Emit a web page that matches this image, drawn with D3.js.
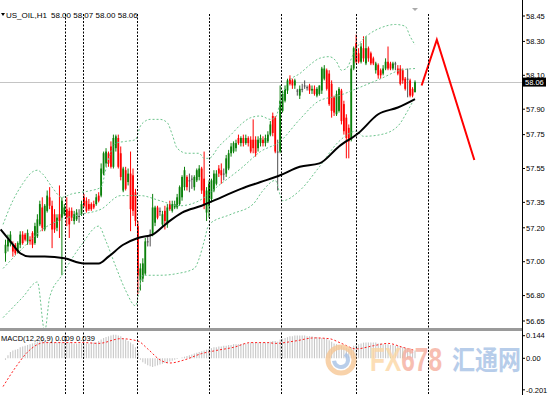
<!DOCTYPE html>
<html><head><meta charset="utf-8">
<script src="https://cdn.jsdelivr.net/npm/d3@7"></script>
<style>body{margin:0;background:#fff}svg{display:block}</style>
</head><body><svg id="c" width="550" height="395"></svg>
<script>
const open=[57.05,57.09,57.11,57.10,57.10,57.06,57.10,57.16,57.16,57.12,57.13,57.17,57.11,57.15,57.22,57.32,57.19,57.30,57.38,57.33,
57.28,57.20,57.28,57.26,57.28,57.31,57.30,57.30,57.24,57.25,57.27,57.28,57.38,57.36,57.34,57.34,57.34,57.34,57.39,57.39,
57.52,57.58,57.64,57.68,57.56,57.67,57.73,57.64,57.42,57.54,57.47,57.52,57.51,57.41,57.21,56.89,56.90,56.93,57.12,57.16,
57.16,57.23,57.32,57.30,57.22,57.30,57.22,57.34,57.30,57.32,57.32,57.34,57.38,57.44,57.50,57.48,57.49,57.44,57.48,57.50,
57.55,57.49,57.29,57.33,57.37,57.42,57.46,57.55,57.54,57.52,57.52,57.55,57.64,57.65,57.67,57.73,57.70,57.73,57.70,57.73,
57.72,57.72,57.72,57.67,57.70,57.72,57.70,57.71,57.75,57.86,57.85,57.65,57.65,57.89,57.95,58.01,58.08,58.07,58.04,58.01,
57.98,58.02,58.04,58.03,58.04,58.01,58.02,57.98,57.99,58.01,58.08,58.13,58.11,58.05,57.97,57.87,57.89,58.01,57.93,57.85,
57.79,57.72,58.14,58.29,58.23,58.18,58.26,58.17,58.26,58.23,58.20,58.13,58.16,58.13,58.11,58.14,58.18,58.17,58.14,58.17,
58.14,58.14,58.13,58.08,58.08,58.07,58.02,58.00];
const high=[57.13,57.16,57.18,57.12,57.11,57.12,57.18,57.18,57.17,57.19,57.15,57.18,57.23,57.28,57.36,57.38,57.34,57.42,57.44,57.36,
57.31,57.28,57.45,57.38,57.34,57.38,57.32,57.32,57.30,57.31,57.31,57.36,57.40,57.38,57.37,57.35,57.36,57.40,57.41,57.58,
57.65,57.67,57.65,57.71,57.75,57.75,57.75,57.68,57.56,57.56,57.55,57.65,57.55,57.43,57.24,56.99,57.02,57.14,57.15,57.19,
57.40,57.33,57.33,57.32,57.30,57.33,57.34,57.36,57.36,57.36,57.40,57.45,57.51,57.56,57.51,57.52,57.51,57.51,57.55,57.57,
57.56,57.65,57.44,57.48,57.49,57.54,57.54,57.57,57.58,57.55,57.63,57.66,57.70,57.71,57.72,57.75,57.74,57.75,57.75,57.74,
57.74,57.84,57.74,57.74,57.75,57.74,57.75,57.77,57.83,57.88,57.86,57.72,58.04,58.01,58.04,58.08,58.10,58.08,58.08,58.02,
58.04,58.05,58.07,58.04,58.05,58.04,58.04,58.03,58.04,58.15,58.16,58.14,58.13,58.07,57.98,58.01,58.03,58.02,57.95,57.87,
57.81,58.16,58.27,58.34,58.26,58.29,58.33,58.33,58.27,58.24,58.21,58.18,58.17,58.14,58.16,58.20,58.27,58.18,58.18,58.18,
58.16,58.16,58.14,58.09,58.14,58.08,58.03,58.07];
const low=[57.00,57.06,57.09,57.03,57.04,57.05,57.08,57.10,57.12,57.10,57.10,57.08,57.10,57.14,57.21,57.18,57.18,57.29,57.31,57.08,
57.17,57.18,57.14,56.92,57.27,57.21,57.14,57.24,57.22,57.24,57.23,57.27,57.32,57.29,57.30,57.30,57.31,57.33,57.35,57.38,
57.51,57.56,57.56,57.55,57.55,57.65,57.55,57.48,57.41,57.42,57.45,57.18,57.27,57.21,56.81,56.83,56.88,56.92,57.09,57.09,
57.15,57.21,57.25,57.27,57.20,57.19,57.20,57.30,57.29,57.31,57.31,57.33,57.36,57.42,57.42,57.41,57.43,57.42,57.47,57.48,
57.40,57.31,57.24,57.26,57.35,57.41,57.45,57.50,57.46,57.48,57.50,57.54,57.62,57.64,57.65,57.69,57.68,57.68,57.69,57.68,
57.64,57.64,57.62,57.65,57.68,57.68,57.68,57.70,57.74,57.74,57.64,57.42,57.64,57.88,57.94,57.99,58.04,58.02,58.02,57.98,
57.96,58.00,58.02,58.01,57.99,57.99,57.98,57.97,57.98,57.99,58.07,58.01,57.92,57.85,57.86,57.86,57.88,57.81,57.75,57.61,
57.61,57.71,58.13,58.17,58.17,58.17,58.18,58.16,58.18,58.16,58.16,58.11,58.08,58.08,58.10,58.13,58.13,58.13,58.13,58.13,
58.10,58.04,58.05,58.01,57.97,57.97,57.97,58.00];
const close=[57.10,57.13,57.16,57.06,57.05,57.11,57.16,57.11,57.13,57.17,57.12,57.10,57.21,57.25,57.34,57.20,57.33,57.39,57.33,57.19,
57.19,57.26,57.24,57.36,57.32,57.26,57.22,57.26,57.28,57.29,57.27,57.34,57.33,57.30,57.31,57.31,57.32,57.38,57.36,57.55,
57.64,57.65,57.58,57.56,57.73,57.74,57.56,57.50,57.55,57.43,57.52,57.31,57.30,57.24,56.92,56.96,56.99,57.12,57.12,57.16,
57.32,57.32,57.26,57.30,57.28,57.24,57.32,57.31,57.34,57.34,57.38,57.44,57.50,57.54,57.44,57.48,57.49,57.50,57.54,57.55,
57.42,57.33,57.42,57.46,57.48,57.52,57.52,57.52,57.51,57.52,57.61,57.64,57.68,57.70,57.70,57.70,57.73,57.70,57.73,57.70,
57.65,57.67,57.64,57.72,57.73,57.70,57.73,57.75,57.81,57.76,57.65,57.65,57.95,57.99,58.02,58.07,58.05,58.04,58.07,58.01,
58.02,58.02,58.04,58.03,58.01,58.02,57.99,58.02,58.04,58.14,58.14,58.02,57.93,57.89,57.88,57.99,58.02,57.83,57.77,57.73,
57.71,58.14,58.26,58.18,58.18,58.27,58.20,58.26,58.20,58.17,58.17,58.17,58.10,58.10,58.14,58.18,58.14,58.14,58.17,58.17,
58.11,58.05,58.07,58.02,58.08,57.98,57.98,58.06];

const maIdx=[-2,2,6,10,16,24,32,38,42,48,54,60,66,72,80,88,96,104,112,120,128,136,144,152,160,167];
const maVal=[57.19,57.12,57.05,57.03,57.03,57.02,56.99,56.99,57.03,57.10,57.14,57.16,57.23,57.29,57.33,57.38,57.43,57.47,57.51,57.56,57.58,57.68,57.76,57.87,57.91,57.96];

const bbUpIdx=[-1,3,7,11,13,15,19,23,27,31,35,39,41,43,45,49,53,55,57,59,63,66,68,70,74,79,81,83,87,92,96,100,104,108,110,113,116,120,124,128,132,135,137,139,142,145,149,153,159,163,165,167];
const bbUpVal=[57.22,57.36,57.46,57.53,57.54,57.52,57.44,57.38,57.40,57.41,57.42,57.44,57.55,57.65,57.70,57.71,57.72,57.80,57.83,57.84,57.84,57.82,57.75,57.67,57.64,57.64,57.61,57.61,57.68,57.75,57.81,57.85,57.86,57.84,57.85,57.99,58.07,58.11,58.16,58.20,58.21,58.18,58.13,58.14,58.23,58.30,58.35,58.38,58.40,58.39,58.33,58.28];
const bbMidIdx=[-1,7,15,23,31,39,47,55,63,71,79,87,96,104,112,120,128,136,143,153,161,167];
const bbMidVal=[56.96,57.08,57.19,57.25,57.28,57.31,57.39,57.39,57.36,57.33,57.36,57.45,57.55,57.65,57.71,57.84,57.95,57.98,58.02,58.08,58.13,58.14];
const bbLoIdx=[-1,7,13,16,18,23,31,38,41,45,49,53,56,63,70,77,79,81,83,92,101,105,110,113,120,128,136,143,146,153,160,164,167];
const bbLoVal=[56.67,56.79,56.88,56.59,56.79,56.92,57.10,57.21,57.12,56.97,56.83,56.74,56.92,56.92,56.93,56.96,57.02,57.12,57.22,57.28,57.34,57.42,57.48,57.36,57.42,57.56,57.71,57.77,57.74,57.75,57.80,57.89,57.97];

const macdHist=[-0.01,0.02,0.04,0.05,0.055,0.06,0.07,0.075,0.08,
0.085,0.09,0.095,0.10,0.105,0.11,0.11,0.11,0.105,0.10,
0.10,0.10,0.10,0.10,0.10,0.10,0.10,0.10,0.10,0.095,
0.095,0.095,0.095,0.095,0.095,0.095,0.10,0.10,0.10,0.11,
0.12,0.13,0.135,0.14,0.145,0.15,0.15,0.145,0.14,0.13,
0.12,0.11,0.10,0.09,0.07,0.04,-0.01,-0.025,-0.035,-0.045,
-0.05,-0.055,-0.05,-0.045,-0.04,-0.035,-0.03,-0.025,-0.02,-0.015,
-0.01,-0.005,0.0,0.005,0.01,0.015,0.02,0.025,0.03,0.035,
0.04,0.045,0.05,0.055,0.06,0.065,0.07,0.07,0.075,0.075,
0.08,0.08,0.085,0.085,0.09,0.09,0.09,0.09,0.095,0.095,
0.095,0.10,0.10,0.10,0.10,0.10,0.10,0.10,0.10,0.105,
0.11,0.11,0.105,0.12,0.125,0.13,0.135,0.14,0.14,0.145,
0.145,0.145,0.145,0.145,0.14,0.14,0.14,0.135,0.135,0.13,
0.13,0.13,0.125,0.115,0.105,0.095,0.09,0.085,0.08,0.07,
0.065,0.06,0.07,0.08,0.085,0.09,0.095,0.10,0.10,0.10,
0.10,0.10,0.10,0.095,0.095,0.09,0.09,0.09,0.085,0.085,
0.08,0.08,0.075,0.07,0.065,0.06,0.055,0.05,0.05];
const sigIdx=[-1,4,9,16,32,38,47,54,58,63,67,73,80,86,93,100,107,110,118,126,132,137,143,150,156,162,167];
const sigVal=[-0.18,-0.06,0.04,0.10,0.10,0.095,0.125,0.11,0.06,-0.01,-0.03,-0.01,0.03,0.05,0.07,0.10,0.10,0.095,0.11,0.13,0.125,0.095,0.06,0.08,0.095,0.07,0.05];

const sepBar=[24.3,31.6,53.6,83.0,112.4,142.9,172.3];
const fcBar=[169.7,175.9,191.2];
const fcPrice=[58.04,58.31,57.60];
const priceTicks=[58.45,58.30,58.10,57.90,57.75,57.55,57.35,57.20,57.00,56.80,56.65];
const macdTicks=[0.144,0,-0.201];
const macdTickLabels=["0.144","0.00","-0.201"];
const lastPrice=58.06;
const titleSym="US_OIL,H1";
const titleOHLC="58.00 58.07 58.00 58.06";
const macdTitle="MACD(12,26,9) 0.009 0.039";

const AX=522;
const svg=d3.select('#c');
const x=d3.scaleLinear().domain([0,open.length-1]).range([5.5,415]);
const y=d3.scaleLinear().domain([56.65,58.45]).range([321,16]);
const ym=d3.scaleLinear().domain([0,0.144]).range([358.3,335.7]);
const defs=svg.append('defs');
defs.append('clipPath').attr('id','cm').append('rect').attr('x',0).attr('y',0).attr('width',AX).attr('height',328);
defs.append('clipPath').attr('id','cd').append('rect').attr('x',0).attr('y',331).attr('width',AX).attr('height',64);

const main=svg.append('g').attr('clip-path','url(#cm)');
main.append('line').attr('x1',0).attr('x2',AX).attr('y1',Math.round(y(lastPrice))+0.5).attr('y2',Math.round(y(lastPrice))+0.5).attr('stroke','#c4c4c4').attr('stroke-width',1);

const col=i=>close[i]>open[i]?'#0b800b':(close[i]<open[i]?'#ff0000':'#505050');
const cg=main.append('g');
open.forEach((o,i)=>{
  const cx=x(i);
  cg.append('line').attr('x1',cx).attr('x2',cx).attr('y1',y(high[i])).attr('y2',y(low[i])).attr('stroke',col(i)).attr('stroke-width',1);
  const t=Math.min(y(o),y(close[i])), b=Math.max(y(o),y(close[i]));
  cg.append('rect').attr('x',cx-0.9).attr('width',1.8).attr('y',t).attr('height',Math.max(1,b-t)).attr('fill',col(i));
});

const mk=(idx,sc)=>d3.line().x((d,i)=>x(idx[i])).y(d=>sc(d)).curve(d3.curveMonotoneX);
[[bbUpIdx,bbUpVal],[bbMidIdx,bbMidVal],[bbLoIdx,bbLoVal]].forEach(([ix,v])=>{
  main.append('path').attr('d',mk(ix,y)(v)).attr('fill','none').attr('stroke','#6cc48c').attr('stroke-width',1).attr('stroke-dasharray','2,2');
});
main.append('path').attr('d',mk(maIdx,y)(maVal)).attr('fill','none').attr('stroke','#000').attr('stroke-width',2);
main.append('path').attr('d',d3.line().x((d,i)=>x(fcBar[i])).y(d=>y(d))(fcPrice)).attr('fill','none').attr('stroke','#ff0000').attr('stroke-width',2);

// MACD
const mg=svg.append('g').attr('clip-path','url(#cd)');
macdHist.forEach((v,i)=>{
  mg.append('line').attr('x1',x(i)).attr('x2',x(i)).attr('y1',ym(0)).attr('y2',ym(v)).attr('stroke','#c8c8c8').attr('stroke-width',1.1);
});
mg.append('path').attr('d',mk(sigIdx,ym)(sigVal)).attr('fill','none').attr('stroke','#ff2020').attr('stroke-width',1).attr('stroke-dasharray','2,2');

// separators
sepBar.forEach(s=>{
  const sx=Math.round(x(s))+0.5;
  svg.append('line').attr('x1',sx).attr('x2',sx).attr('y1',14).attr('y2',395).attr('stroke','#000').attr('stroke-width',1).attr('stroke-dasharray','2,1.5');
});
svg.append('rect').attr('x',0).attr('y',328).attr('width',AX).attr('height',3).attr('fill','#9a9a9a');

// watermark
const wm=svg.append('g').attr('opacity',0.8);
wm.append('circle').attr('cx',341).attr('cy',360).attr('r',13).attr('fill','none').attr('stroke','#f7c896').attr('stroke-width',5);
wm.append('path').attr('d',d3.arc()({innerRadius:5,outerRadius:9,startAngle:0.6,endAngle:4.6})).attr('transform','translate(341,360)').attr('fill','#a8c2e6');
wm.append('text').attr('x',370).attr('y',371).attr('font-family','Liberation Sans').attr('font-weight','bold').attr('font-size',34).attr('textLength',72).attr('lengthAdjust','spacingAndGlyphs').html('<tspan fill="#fcd7a4">FX</tspan><tspan fill="#f6ae9e">678</tspan>');
wm.append('text').attr('x',452).attr('y',370).attr('font-family','Noto Sans CJK SC').attr('font-weight','bold').attr('font-size',27).attr('textLength',69).attr('lengthAdjust','spacingAndGlyphs').attr('fill','#a6c1e6').text('汇通网');

// axis
svg.append('line').attr('x1',AX+0.5).attr('x2',AX+0.5).attr('y1',0).attr('y2',395).attr('stroke','#000');
const lab=svg.append('g').attr('font-family','Liberation Sans').attr('font-size',7.5).attr('fill','#000');
priceTicks.forEach(t=>{
  svg.append('line').attr('x1',AX).attr('x2',AX+3).attr('y1',y(t)).attr('y2',y(t)).attr('stroke','#000');
  lab.append('text').attr('x',526).attr('y',y(t)+2.7).text(t.toFixed(2));
});
macdTicks.forEach((t,i)=>{
  svg.append('line').attr('x1',AX).attr('x2',AX+3).attr('y1',ym(t)).attr('y2',ym(t)).attr('stroke','#000');
  lab.append('text').attr('x',526).attr('y',ym(t)+2.7).text(macdTickLabels[i]);
});
svg.append('rect').attr('x',523).attr('y',y(lastPrice)-4.5).attr('width',23).attr('height',9).attr('fill','#000');
svg.append('text').attr('x',525).attr('y',y(lastPrice)+2.7).attr('font-family','Liberation Sans').attr('font-size',7.5).attr('fill','#fff').text(lastPrice.toFixed(2));

// titles
svg.append('path').attr('d','M1,13 L5,13 L3,16 Z').attr('fill','#000');
svg.append('text').attr('x',6).attr('y',18).attr('font-family','Liberation Sans').attr('font-size',8).text(titleSym);
svg.append('text').attr('x',51).attr('y',18).attr('font-family','Liberation Sans').attr('font-size',8).text(titleOHLC);
svg.append('text').attr('x',1).attr('y',341).attr('font-family','Liberation Sans').attr('font-size',7.5).text(macdTitle);
svg.append('path').attr('d','M412,8 L418,8 L415,11 Z').attr('fill','#aaa');
</script></body></html>
